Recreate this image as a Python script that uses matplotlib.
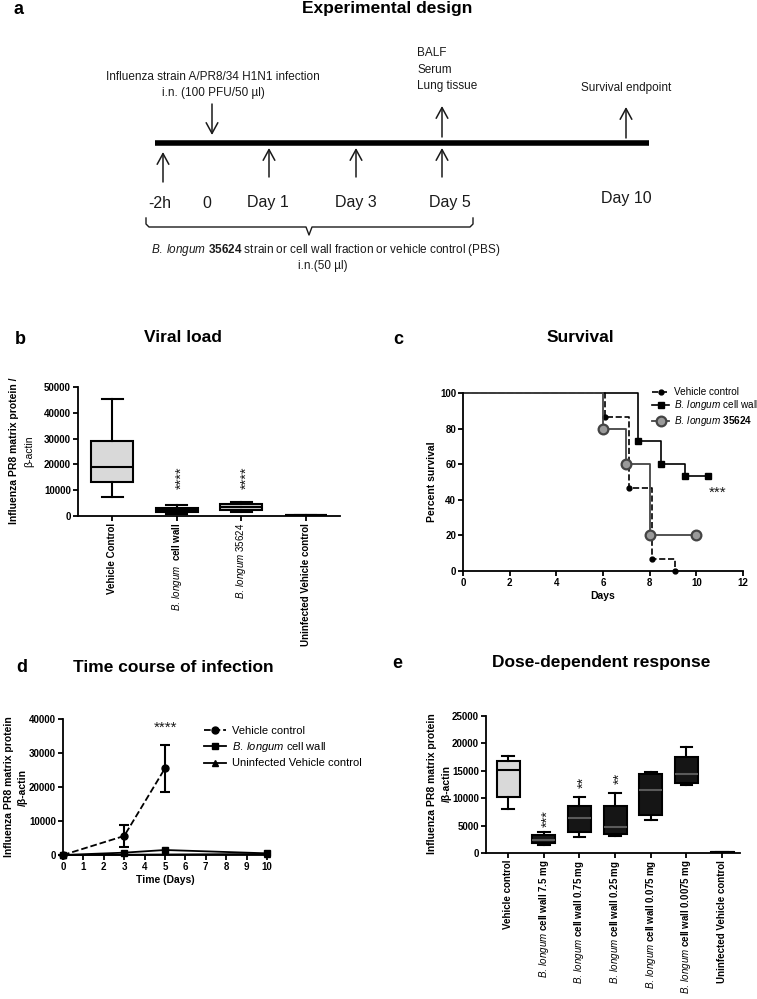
import numpy as np
import matplotlib
matplotlib.use('Agg')
import matplotlib.pyplot as plt
from matplotlib.lines import Line2D
import matplotlib.transforms as mtransforms

plt.rcParams['font.family'] = ['Liberation Sans', 'DejaVu Sans']
plt.rcParams['mathtext.fontset'] = 'custom'
plt.rcParams['mathtext.rm'] = 'Liberation Sans'
plt.rcParams['mathtext.it'] = 'Liberation Sans:italic'
plt.rcParams['mathtext.bf'] = 'Liberation Sans:bold'

BL = r'$\mathit{B.\:longum}$'

# ---- data -------------------------------------------------------------
# b: viral load box plots
viral_labels = ['Vehicle Control',
                BL + r'  $\mathbf{cell\;wall}$',
                BL + ' 35624',
                'Uninfected Vehicle control']
viral_label_bold = [True, False, False, True]
viral_whislo = [7500, 800, 1700, 150]
viral_q1     = [13150, 1700, 2300, 250]
viral_med    = [19100, 2300, 3600, 350]
viral_q3     = [29000, 3200, 4500, 450]
viral_whishi = [45200, 4250, 5500, 550]
viral_stars  = ['', '****', '****', '']

# c: survival curves (Kaplan-Meier steps)
surv_vehicle_days = [0, 6.1, 7.1, 8.1, 9.1]
surv_vehicle_pct  = [100, 86.7, 46.7, 6.7, 0]
surv_wall_days    = [0, 7.5, 8.5, 9.5, 10.5]
surv_wall_pct     = [100, 73.3, 60, 53.3, 53.3]
surv_strain_days  = [0, 6, 7, 8, 10]
surv_strain_pct   = [100, 80, 60, 20, 20]

# d: time course
tc_vehicle_days = [0, 3, 5]
tc_vehicle      = [0, 5600, 25500]
tc_vehicle_err  = [0, 3250, 7000]
tc_wall_days    = [0, 3, 5, 10]
tc_wall         = [0, 690, 1470, 490]
tc_uninf_days   = [0, 10]
tc_uninf        = [0, 300]

# e: dose response box plots
dose_labels = ['Vehicle control',
               BL + r' $\mathbf{cell\;wall\;7.5\;mg}$',
               BL + r' $\mathbf{cell\;wall\;0.75\;mg}$',
               BL + r' $\mathbf{cell\;wall\;0.25\;mg}$',
               BL + r' $\mathbf{cell\;wall\;0.075\;mg}$',
               BL + r' $\mathbf{cell\;wall\;0.0075\;mg}$',
               'Uninfected Vehicle control']
dose_label_bold = [True, False, False, False, False, False, True]
dose_whislo = [7950, 1400, 2970, 3030, 6010, 12380, 50]
dose_q1     = [10260, 1820, 3760, 3520, 6980, 12810, 80]
dose_med    = [15230, 2300, 6430, 4730, 11470, 14330, 120]
dose_q3     = [16810, 3280, 8500, 8620, 14390, 17540, 160]
dose_whishi = [17790, 3760, 10260, 10930, 14870, 19360, 200]
dose_stars  = ['', '***', '**', '**', '', '', '']

# ---- layout helpers ----------------------------------------------------
W, H = 757, 999
fig = plt.figure(figsize=(W / 100, H / 100), dpi=100)


def box(x0, y0, x1, y1):
    return [x0 / W, 1 - y1 / H, (x1 - x0) / W, (y1 - y0) / H]


def ftext(x, y, s, **kw):
    fig.text(x / W, 1 - y / H, s, **kw)


def style(ax):
    for s in ('top', 'right'):
        ax.spines[s].set_visible(False)
    for s in ('left', 'bottom'):
        ax.spines[s].set_linewidth(1.3)
    ax.tick_params(width=1.3, length=3.5, labelsize=7, pad=1.5)
    for lab in ax.get_yticklabels():
        lab.set_fontweight('bold')


INK = '#1a1a1a'

# ---- a: experimental design -------------------------------------------
axa = fig.add_axes([0, 1 - 330 / H, 1, 330 / H])
axa.set_xlim(0, W)
axa.set_ylim(330, 0)
axa.axis('off')

axa.plot([155, 649], [143, 143], color='k', lw=4, solid_capstyle='butt')
arrow = dict(arrowstyle='->,head_length=0.55,head_width=0.3', lw=1.1,
             color=INK, shrinkA=0, shrinkB=0, mutation_scale=14)
for x, y0, y1 in [(163, 182, 152), (269, 177, 148), (356, 177, 148),
                  (442, 177, 148), (442, 137, 106), (626, 138, 107),
                  (212, 104, 135)]:
    axa.annotate('', xy=(x, y1), xytext=(x, y0), arrowprops=arrow)

for x, s in [(160, '-2h'), (207, '0'), (268, 'Day 1'), (356, 'Day 3'),
             (450, 'Day 5')]:
    axa.text(x, 203, s, fontsize=11.5, ha='center', va='center', color=INK)
axa.text(626, 199, 'Day 10', fontsize=11.5, ha='center', va='center', color=INK)

axa.text(213, 77, 'Influenza strain A/PR8/34 H1N1 infection', fontsize=8.5,
         ha='center', va='center', color=INK)
axa.text(213, 93, 'i.n. (100 PFU/50 µl)', fontsize=8.5, ha='center',
         va='center', color=INK)
for y, s in [(53, 'BALF'), (70, 'Serum'), (86, 'Lung tissue')]:
    axa.text(417, y, s, fontsize=8.5, ha='left', va='center', color=INK)
axa.text(626, 88, 'Survival endpoint', fontsize=8.5, ha='center',
         va='center', color=INK)

axa.plot([146, 146, 149, 306, 309, 312, 470, 473, 473],
         [218, 224, 227, 227, 235, 227, 227, 224, 218],
         color=INK, lw=1.0)
axa.text(326, 250, BL + r' $\mathbf{35624}$ strain or cell '
         'wall fraction or vehicle control (PBS)', fontsize=8.5,
         ha='center', va='center', color=INK)
axa.text(323, 266, 'i.n.(50 µl)', fontsize=8.5, ha='center', va='center',
         color=INK)

ftext(18, 10, 'a', fontsize=13, fontweight='bold', ha='center', va='center')
ftext(387, 9, 'Experimental design', fontsize=12.5, fontweight='bold',
      ha='center', va='center')

# panel letters / titles
for x, y, s in [(20, 340, 'b'), (398, 340, 'c'), (22, 667, 'd'),
                (397, 663, 'e')]:
    ftext(x, y, s, fontsize=13, fontweight='bold', ha='center', va='center')
for x, y, s in [(183, 338, 'Viral load'), (580, 337, 'Survival'),
                (173, 667, 'Time course of infection'),
                (601, 663, 'Dose-dependent response')]:
    ftext(x, y, s, fontsize=12.5, fontweight='bold', ha='center', va='center')


def boxplot(ax, whislo, q1, med, q3, whishi, faces, medcol, width):
    stats = [dict(whislo=a, q1=b, med=c, q3=d, whishi=e, fliers=[])
             for a, b, c, d, e in zip(whislo, q1, med, q3, whishi)]
    out = ax.bxp(stats, positions=range(len(stats)), widths=width,
                 patch_artist=True, showfliers=False,
                 boxprops=dict(edgecolor='k', linewidth=1.5),
                 whiskerprops=dict(color='k', linewidth=1.5),
                 capprops=dict(color='k', linewidth=1.5),
                 medianprops=dict(linewidth=1.5),
                 capwidths=width * 0.5, manage_ticks=False)
    for patch, fc in zip(out['boxes'], faces):
        patch.set_facecolor(fc)
    for line, mc in zip(out['medians'], medcol):
        line.set_color(mc)


def cat_labels(ax, labels, bolds):
    ax.set_xticks(range(len(labels)))
    ax.set_xticklabels(labels, rotation=90, fontsize=7)
    for lab, b in zip(ax.get_xticklabels(), bolds):
        lab.set_fontweight('bold' if b else 'normal')


def stars(ax, xs, ys, texts, dx_px):
    off = mtransforms.offset_copy(ax.transData, fig=fig, x=dx_px * 0.72,
                                  y=0, units='points')
    for x, y, s in zip(xs, ys, texts):
        if s:
            ax.text(x, y, s, transform=off, rotation=90, fontsize=10.5,
                    ha='center', va='center', color=INK)


# ---- b: viral load -----------------------------------------------------
axb = fig.add_axes(box(78, 387, 340, 516))
boxplot(axb, viral_whislo, viral_q1, viral_med, viral_q3, viral_whishi,
        ['#d9d9d9', '#cfcfcf', '#cfcfcf', '#cfcfcf'], ['k'] * 4, 0.65)
axb.set_xlim(-0.53, 3.53)
axb.set_ylim(0, 50000)
axb.set_yticks(np.arange(0, 50001, 10000))
style(axb)
cat_labels(axb, viral_labels, viral_label_bold)
stars(axb, range(4), [15000] * 4, viral_stars, 5)
ftext(14, 451, 'Influenza PR8 matrix protein /', fontsize=7.5,
      fontweight='bold', rotation=90, ha='center', va='center')
ftext(29, 451, 'β-actin', fontsize=7.5, rotation=90, ha='center',
      va='center')

# ---- c: survival -------------------------------------------------------
axc = fig.add_axes(box(463, 393, 743, 571))
axc.step(surv_vehicle_days, surv_vehicle_pct, where='post', color='k',
         ls='--', lw=1.2, clip_on=False)
axc.plot(surv_vehicle_days[1:], surv_vehicle_pct[1:], 'o', color='k', ms=3.5,
         clip_on=False)
axc.step(surv_wall_days, surv_wall_pct, where='post', color='k', lw=1.2,
         clip_on=False)
axc.plot(surv_wall_days[1:], surv_wall_pct[1:], 's', color='k', ms=4.5,
         clip_on=False)
axc.step(surv_strain_days, surv_strain_pct, where='post', color='#444444',
         lw=1.3, clip_on=False)
axc.plot(surv_strain_days[1:], surv_strain_pct[1:], 'o', mfc='#9a9a9a',
         mec='#444444', mew=1.6, ms=7, clip_on=False)
axc.set_xlim(0, 12)
axc.set_ylim(0, 100)
axc.set_xticks(np.arange(0, 13, 2))
axc.set_yticks(np.arange(0, 101, 20))
style(axc)
for lab in axc.get_xticklabels():
    lab.set_fontweight('bold')
axc.set_xlabel('Days', fontsize=7.5, fontweight='bold', labelpad=2)
axc.set_ylabel('Percent survival', fontsize=7.5, fontweight='bold',
               labelpad=2)
axc.text(10.9, 44, '***', fontsize=11, ha='center', va='center', color=INK)
hc = [Line2D([], [], color='k', ls='--', lw=1.2, marker='o', ms=3.5),
      Line2D([], [], color='k', lw=1.2, marker='s', ms=4.5),
      Line2D([], [], color='#444444', lw=1.3, marker='o', mfc='#9a9a9a',
             mec='#444444', mew=1.6, ms=7)]
axc.legend(hc, ['Vehicle control', BL + ' cell wall',
                BL + r' $\mathbf{35624}$'],
           loc='upper left', bbox_to_anchor=(647 / W, 1 - 382 / H),
           bbox_transform=fig.transFigure, frameon=False, fontsize=7.2,
           handlelength=1.7, handletextpad=0.45, borderpad=0,
           labelspacing=0.15)

# ---- d: time course ----------------------------------------------------
axd = fig.add_axes(box(63, 719, 267, 855))
axd.errorbar(tc_vehicle_days, tc_vehicle, yerr=tc_vehicle_err, fmt='o--',
             color='k', ms=5, lw=1.3, capsize=3.5, elinewidth=1.5,
             capthick=1.5, clip_on=False)
axd.plot(tc_wall_days, tc_wall, 's-', color='k', ms=5, lw=1.3, clip_on=False)
axd.plot(tc_uninf_days, tc_uninf, '^-', color='k', ms=5, lw=1.3,
         clip_on=False)
axd.set_xlim(0, 10)
axd.set_ylim(0, 40000)
axd.set_xticks(np.arange(0, 11, 1))
axd.set_yticks(np.arange(0, 40001, 10000))
style(axd)
for lab in axd.get_xticklabels():
    lab.set_fontweight('bold')
axd.set_xlabel('Time (Days)', fontsize=7.5, fontweight='bold', labelpad=2)
axd.text(5.05, 37300, '****', fontsize=11, ha='center', va='center',
         color=INK)
hd = [Line2D([], [], color='k', ls='--', lw=1.3, marker='o', ms=5),
      Line2D([], [], color='k', lw=1.3, marker='s', ms=5),
      Line2D([], [], color='k', lw=1.3, marker='^', ms=5)]
axd.legend(hd, ['Vehicle control', BL + ' cell wall',
                'Uninfected Vehicle control'],
           loc='upper left', bbox_to_anchor=(198 / W, 1 - 720 / H),
           bbox_transform=fig.transFigure, frameon=False, fontsize=8,
           handlelength=2.0, handletextpad=0.6, borderpad=0, labelspacing=0.4)
ftext(9, 787, 'Influenza PR8 matrix protein', fontsize=7.5,
      fontweight='bold', rotation=90, ha='center', va='center')
ftext(23, 787, '/β-actin', fontsize=7.5, fontweight='bold', rotation=90,
      ha='center', va='center')

# ---- e: dose response --------------------------------------------------
axe = fig.add_axes(box(486, 716, 740, 853))
boxplot(axe, dose_whislo, dose_q1, dose_med, dose_q3, dose_whishi,
        ['#d9d9d9'] + ['#151515'] * 6, ['k'] + ['#5a5a5a'] * 5 + ['k'], 0.64)
axe.set_xlim(-0.62, 6.5)
axe.set_ylim(0, 25000)
axe.set_yticks(np.arange(0, 25001, 5000))
style(axe)
cat_labels(axe, dose_labels, dose_label_bold)
stars(axe, range(7), [w + 2600 for w in dose_whishi], dose_stars, 4)
ftext(432, 784, 'Influenza PR8 matrix protein', fontsize=7.5,
      fontweight='bold', rotation=90, ha='center', va='center')
ftext(447, 784, '/β-actin', fontsize=7.5, fontweight='bold', rotation=90,
      ha='center', va='center')

fig.savefig('out.png', dpi=100, facecolor='white')
